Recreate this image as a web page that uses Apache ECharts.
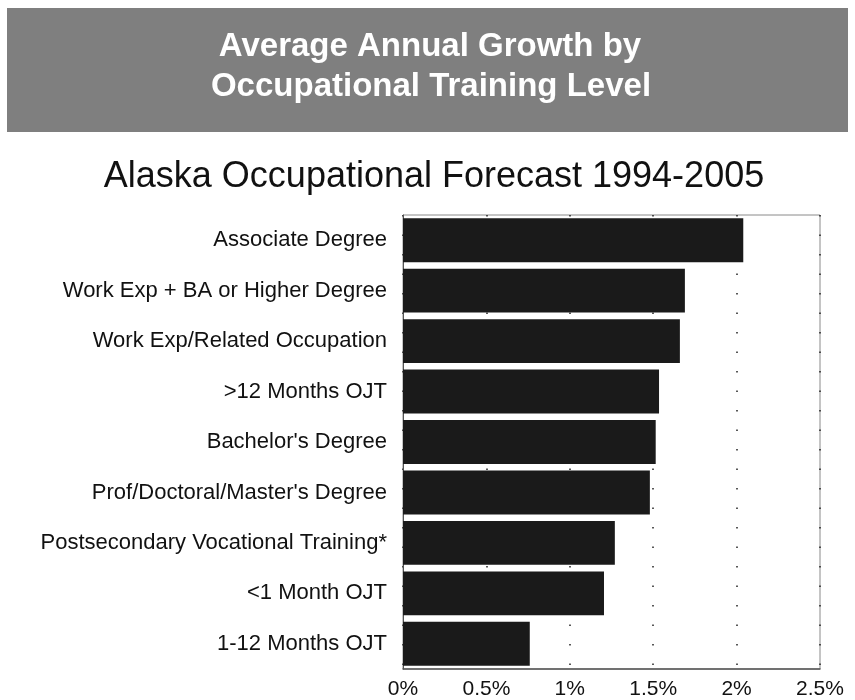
<!DOCTYPE html>
<html>
<head>
<meta charset="utf-8">
<title>Average Annual Growth by Occupational Training Level</title>
<script src="https://cdn.jsdelivr.net/npm/echarts@6/dist/echarts.min.js"></script>
<style>
  html, body { margin: 0; padding: 0; background: #fff; }
  #chart { width: 855px; height: 700px; }
</style>
</head>
<body>
<div id="chart"></div>
<script>
// training levels, top to bottom
var levels = [
  'Associate Degree',
  'Work Exp + BA or Higher Degree',
  'Work Exp/Related Occupation',
  '>12 Months OJT',
  "Bachelor's Degree",
  "Prof/Doctoral/Master's Degree",
  'Postsecondary Vocational Training*',
  '<1 Month OJT',
  '1-12 Months OJT'
];
// average annual growth, percent
var growth = [2.04, 1.69, 1.66, 1.535, 1.515, 1.48, 1.27, 1.205, 0.76];
var xTicks = [0, 0.5, 1, 1.5, 2, 2.5];

var chart = echarts.init(document.getElementById('chart'));
var font = '"Liberation Sans", Arial, Helvetica, sans-serif';

var option = {
  backgroundColor: '#fff',
  animation: false,
  graphic: [
    {
      type: 'rect',
      shape: { x: 7, y: 8, width: 841, height: 124 },
      style: { fill: '#7f7f7f' },
      z: 0
    },
    {
      type: 'text',
      x: 430, y: 47,
      style: {
        text: 'Average Annual Growth by',
        fill: '#fff',
        font: 'bold 33px ' + font,
        textAlign: 'center',
        textVerticalAlign: 'middle'
      },
      z: 5
    },
    {
      type: 'text',
      x: 431, y: 87,
      style: {
        text: 'Occupational Training Level',
        fill: '#fff',
        font: 'bold 33px ' + font,
        textAlign: 'center',
        textVerticalAlign: 'middle'
      },
      z: 5
    },
    {
      type: 'text',
      x: 434, y: 177,
      style: {
        text: 'Alaska Occupational Forecast 1994-2005',
        fill: '#111',
        font: '36px ' + font,
        textAlign: 'center',
        textVerticalAlign: 'middle'
      },
      z: 5
    }
  ],
  grid: {
    left: 403,
    right: 35,
    top: 215,
    bottom: 31,
    show: true,
    borderColor: '#8a8a8a',
    borderWidth: 1,
    backgroundColor: '#fff'
  },
  xAxis: {
    type: 'value',
    min: xTicks[0],
    max: xTicks[xTicks.length - 1],
    interval: 0.5,
    axisLine: { show: true, lineStyle: { color: '#555', width: 1.5 } },
    axisTick: { show: false },
    axisLabel: {
      formatter: '{value}%',
      color: '#111',
      fontFamily: font,
      fontSize: 21,
      margin: 10
    },
    splitLine: {
      show: true,
      lineStyle: { color: '#222', width: 1.5, type: [1.5, 18] }
    }
  },
  yAxis: {
    type: 'category',
    data: levels,
    inverse: true,
    axisLine: { show: true, lineStyle: { color: '#555' } },
    axisTick: { show: false },
    axisLabel: {
      color: '#111',
      fontFamily: font,
      fontSize: 22,
      margin: 16
    }
  },
  series: [
    {
      name: 'Growth',
      type: 'bar',
      data: growth,
      barCategoryGap: '13%',
      itemStyle: { color: '#1a1a1a' }
    }
  ]
};

chart.setOption(option);
</script>
</body>
</html>
